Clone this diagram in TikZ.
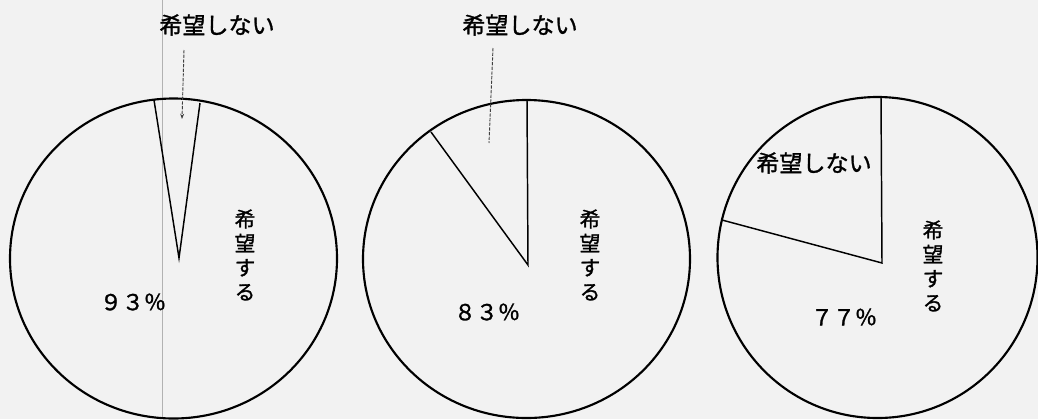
\documentclass[tikz,border=0pt]{standalone}
\usepackage{fontspec}
\newfontfamily\cjk[FakeBold=1.3]{Noto Sans CJK JP}
\usetikzlibrary{arrows.meta}
\tikzset{
  rim/.style={line width=1.6pt},
  radius line/.style={line width=1.1pt},
  leader/.style={line width=0.7pt, black!75, dash pattern=on 2.5pt off 1pt},
  hlabel/.style={font={\cjk\fontsize{17.3}{20}\selectfont}, inner sep=0pt},
  vlabel/.style={font={\cjk\fontsize{15.5}{18.2}\selectfont}, align=center, inner sep=0pt},
  pct/.style={font={\cjk\fontsize{16.5}{19}\selectfont}, inner sep=0pt},
}
\begin{document}
\begin{tikzpicture}[x=0.75pt, y=-0.75pt]
  \fill[black!5] (0,0) rectangle (1038,419);
  \useasboundingbox (0,0) rectangle (1038,419);
  % faint fold line of the scan
  \draw[black!30, line width=0.5pt] (162,0) -- (162,419);

  % ---- chart 1 (93%)
  \coordinate (c1) at (173.5,258.5);
  \coordinate (a1) at (179,258);
  \coordinate (r1a) at (154,100);
  \coordinate (r1b) at (200,103);
  \draw[rim] (c1) ellipse [x radius=163.5, y radius=160];
  \draw[radius line] (r1a) -- (a1) -- (r1b);
  \node[hlabel] (n1) at (217,25) {希望しない};
  \coordinate (l1s) at (184,50);
  \coordinate (l1e) at (182,119);
  \draw[leader, -{Stealth[length=4pt,width=3pt]}] (l1s) -- (l1e);
  \node[vlabel] (y1) at (245,255) {希\\望\\す\\る};
  \node[pct] (p1) at (133,302) {９３％};

  % ---- chart 2 (83%)
  \coordinate (c2) at (526.5,259);
  \coordinate (a2) at (528,265);
  \coordinate (r2a) at (527,100);
  \coordinate (r2b) at (431,132);
  \draw[rim] (c2) ellipse [x radius=163.5, y radius=159];
  \draw[radius line] (r2a) -- (a2) -- (r2b);
  \node[hlabel] (n2) at (520,25) {希望しない};
  \coordinate (l2s) at (493,48);
  \coordinate (l2e) at (489,143);
  \draw[leader] (l2s) -- (l2e);
  \node[vlabel] (y2) at (590,255) {希\\望\\す\\る};
  \node[pct] (p2) at (487,312) {８３％};

  % ---- chart 3 (77%)
  \coordinate (c3) at (877.5,257.5);
  \coordinate (a3) at (882,263);
  \coordinate (r3a) at (881,98);
  \coordinate (r3b) at (722,220);
  \draw[rim] (c3) ellipse [x radius=160, y radius=160.5];
  \draw[radius line] (r3a) -- (a3) -- (r3b);
  \node[hlabel] (n3) at (814,163) {希望しない};
  \node[vlabel] (y3) at (933,266) {希\\望\\す\\る};
  \node[pct] (p3) at (844,317) {７７％};
\end{tikzpicture}
\end{document}
